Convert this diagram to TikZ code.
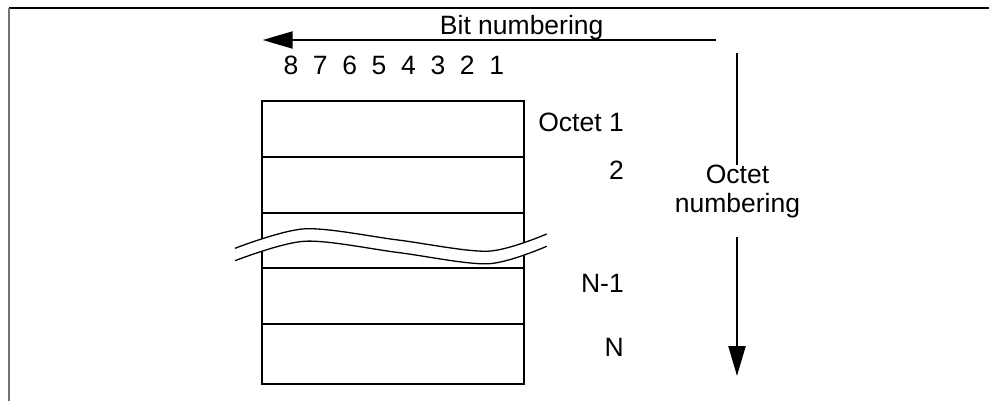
\documentclass[tikz,border=0pt]{standalone}
\usepackage{fontspec}
\setmainfont{Liberation Sans}
\usetikzlibrary{arrows.meta}

\tikzset{
    label/.style={inner sep=0pt, font=\fontsize{26.5}{31}\selectfont},
    numarrow/.style={line width=2.2pt, -{Triangle[length=30pt, width=17pt]}},
    row/.style={line width=1.3pt},
}

\begin{document}
\begin{tikzpicture}[x=1pt, y=-1pt]
    \useasboundingbox (0, 0) rectangle (989, 401);
    % page frame
    \draw[line width=1.2pt] (9, 8) -- (989, 8);
    \draw[line width=1.5pt, black!55] (9, 8) -- (9, 401);

    % bit numbering along the top
    \coordinate (bitstart) at (716, 40);
    \coordinate (bitend) at (262.7, 40);
    \draw[numarrow] (bitstart) -- (bitend);
    \node[label, anchor=base] (bittitle) at (521.7, 35) {Bit numbering};
    \foreach \b in {1,...,8}
        \node[label, anchor=base] (bit\b) at ({496.7-(\b-1)*29.4}, 74.3) {\b};

    % the octets
    \draw[row] (262, 157) -- (524, 157);
    \draw[row] (262, 213) -- (524, 213);
    \draw[line width=2.4pt] (262, 101) rectangle (524, 384);

    % break in the middle
    \fill[white] plot[smooth] coordinates {(235, 248.3) (305, 228.8) (398, 240) (488, 251.2) (546.7, 234)}
        -- plot[smooth] coordinates {(546.7, 246.3) (488, 263.8) (398, 252.5) (305, 241.2) (235, 260.7)} -- cycle;
    \draw[row] plot[smooth] coordinates {(235, 248.3) (305, 228.8) (398, 240) (488, 251.2) (546.7, 234)};
    \draw[row] plot[smooth] coordinates {(235, 260.7) (305, 241.2) (398, 252.5) (488, 263.8) (546.7, 246.3)};
    \draw[row] (262, 268) -- (524, 268);
    \draw[row] (262, 324) -- (524, 324);

    \node[label, anchor=base east] (oct1) at (624, 132) {Octet 1};
    \node[label, anchor=base east] (oct2) at (624, 180) {2};
    \node[label, anchor=base east] (octn1) at (624, 292.3) {N-1};
    \node[label, anchor=base east] (octn) at (624, 356) {N};

    % octet numbering down the side
    \coordinate (octtop) at (737, 53);
    \coordinate (octgapa) at (737, 165);
    \coordinate (octgapb) at (737, 237);
    \coordinate (octend) at (737, 376);
    \draw[line width=2.2pt] (octtop) -- (octgapa);
    \draw[numarrow] (octgapb) -- (octend);
    \node[label, anchor=base] (octtitle) at (737.5, 183.3) {Octet};
    \node[label, anchor=base] (octtitleb) at (737.5, 213) {numbering};
\end{tikzpicture}
\end{document}
